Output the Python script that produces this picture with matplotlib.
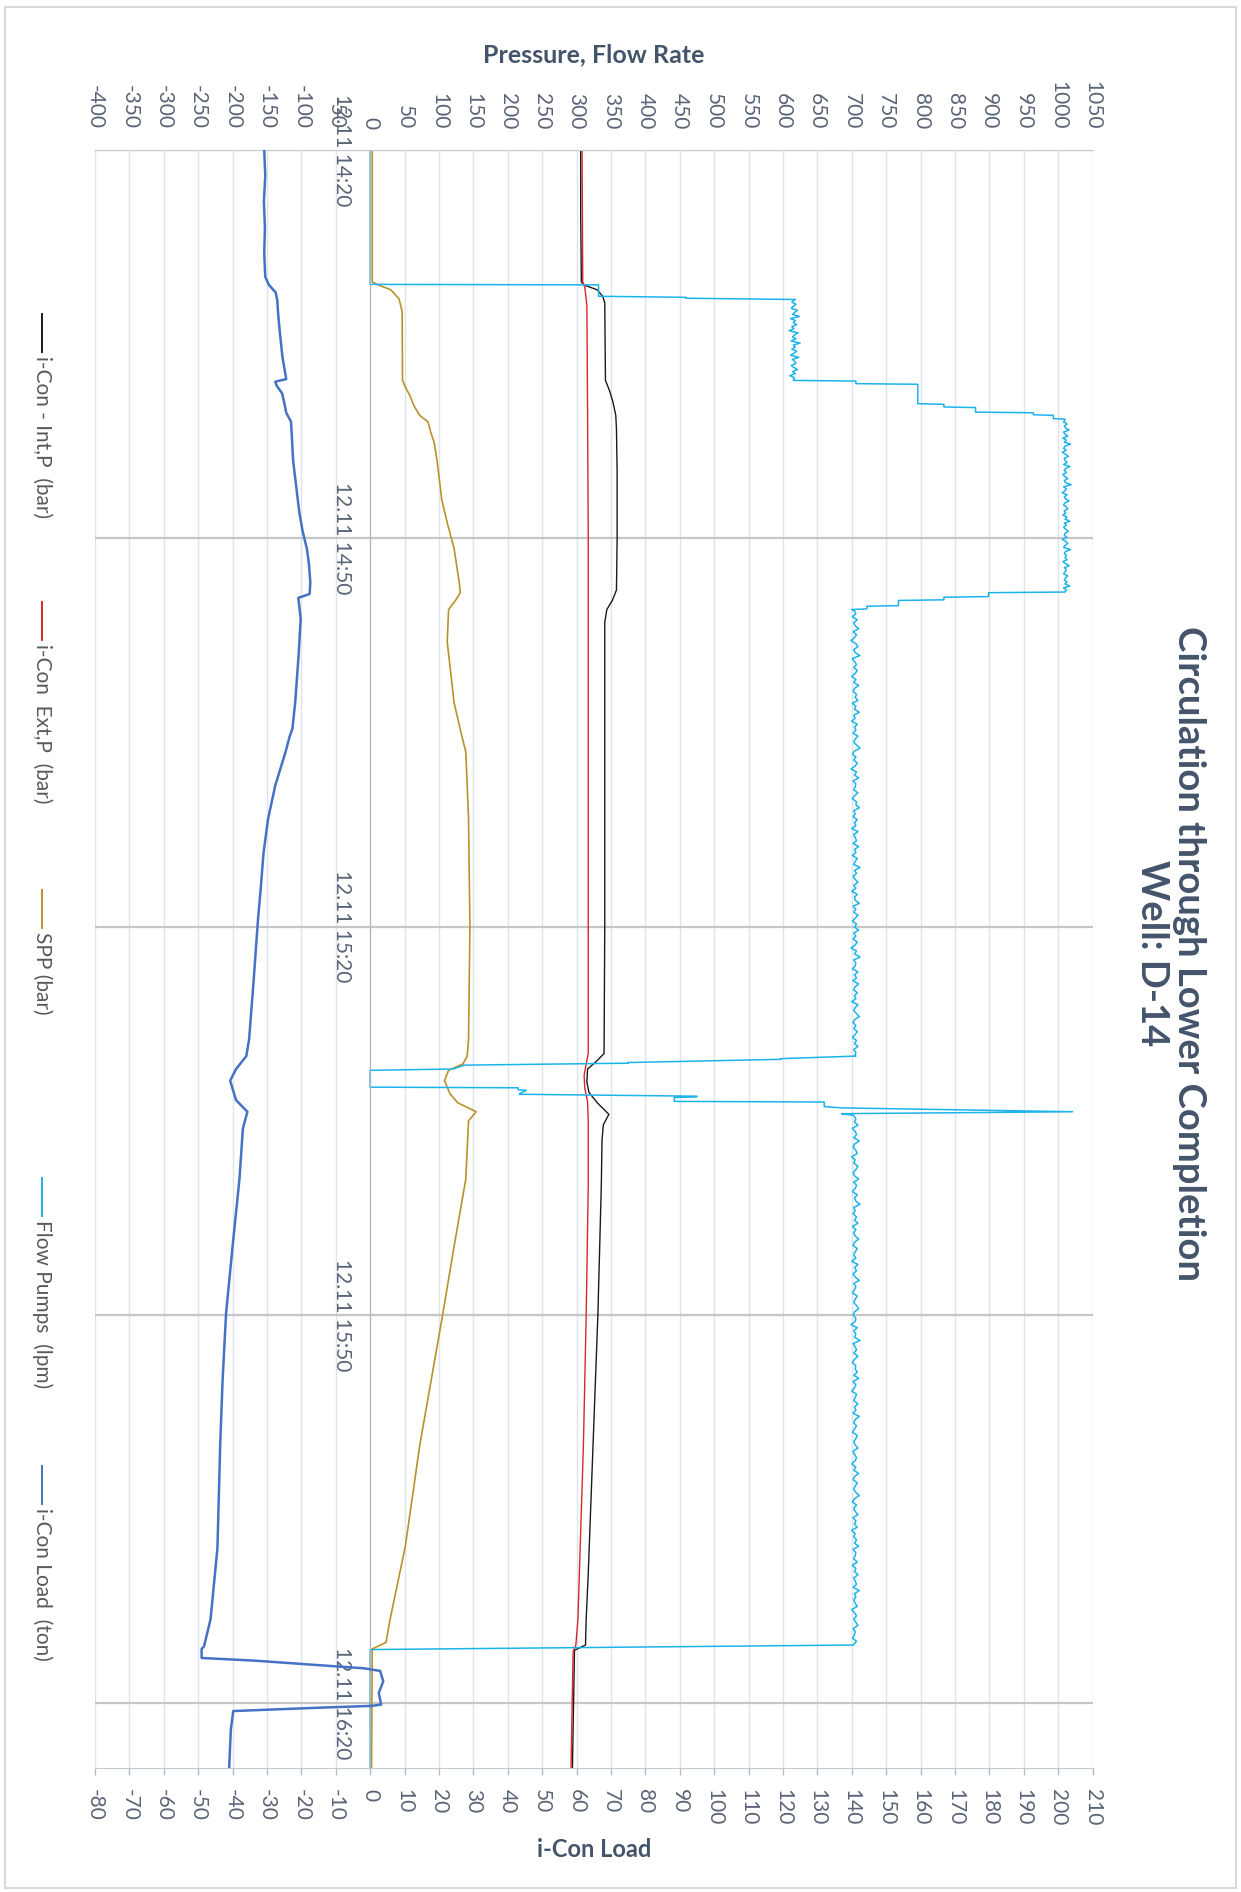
import matplotlib
matplotlib.use("Agg")
import matplotlib.pyplot as plt
from matplotlib.lines import Line2D
from matplotlib.patches import Rectangle
import numpy as np

plt.rcParams["font.family"] = ["Lato", "DejaVu Sans"]

# time axis in minutes after 12.11 14:20
time_ticks = [0, 30, 60, 90, 120]
time_labels = ["12.11 14:20", "12.11 14:50", "12.11 15:20", "12.11 15:50", "12.11 16:20"]
press_ticks = list(range(-400, 1051, 50))
load_ticks = list(range(-80, 211, 10))

series_names = ["i-Con - Int,P  (bar)", "i-Con  Ext,P  (bar)", "SPP (bar)",
                "Flow Pumps  (lpm)", "i-Con Load  (ton)"]
series_colors = ["#1a1a1a", "#d9262b", "#b8922c", "#1cb3ec", "#4472c4"]

# i-Con - Int,P (bar)
int_t = [0, 5, 10.2, 10.45, 10.8, 11.3, 11.8, 17.8, 18.6, 19.5, 20.5, 21.5, 25, 30, 34.0,
         34.8, 35.5, 36.5, 40, 50, 60, 69.8, 70.4, 71.0, 72.0, 72.8, 73.6, 74.5, 75.3, 76.5,
         80, 90, 100, 110, 113.5, 115.5, 115.9, 125]
int_p = [306, 306, 307, 312, 330, 338, 341, 342, 348, 353, 357, 358, 359, 359, 358,
         352, 344, 341, 341, 341, 341, 340, 329, 316, 315, 318, 330, 347, 339, 337,
         336, 331, 324, 317, 314, 313, 297, 294]

# i-Con Ext,P (bar)
ext_t = [0, 10.2, 10.6, 12, 20, 30, 40, 60, 69.8, 70.6, 71.5, 72.5, 73.5, 75, 80, 90,
         100, 113.5, 115.5, 116, 125]
ext_p = [308, 309, 312, 315, 316, 317, 317, 317, 317, 314, 311, 312, 316, 317, 317, 314,
         310, 302, 299, 295, 292]

# SPP (bar)
spp_t = [0, 10.2, 10.45, 10.8, 11.5, 12.5, 17.8, 18.3, 19.0, 19.8, 20.5, 21.0, 21.8,
         22.6, 24.1, 27.0, 28.8, 30.8, 33.4, 34.2, 34.8, 35.5, 38, 42.7, 45.0, 46.5, 49,
         51.7, 60, 68.7, 70.0, 70.6, 71.1, 71.9, 72.9, 73.6, 74.3, 75.0, 79.5, 84.7, 89.9,
         100.1, 107.9, 113.5, 115.3, 115.8, 125]
spp_p = [3, 3, 13, 30, 42, 46.5, 47, 51, 58, 64, 72, 84, 88,
         93, 97.5, 104, 112, 122, 129.5, 131, 124, 114, 112, 122, 132, 139, 141,
         143, 145, 143, 141, 135, 114, 108, 116, 127, 154, 143, 139, 122, 105.6,
         72, 51, 29, 23, 3, 2]

# Flow Pumps (lpm): stepped parts and noisy plateaus
flow_step_a_t = [0, 10.38, 10.42, 11.3, 11.38, 11.45, 11.55]
flow_step_a = [0, 0, 332, 332, 459, 459, 618]
flow_plateau_600 = [616, 613, 619, 615, 612, 621, 617, 614, 624, 611, 618, 615, 620, 613,
                    616, 609, 622, 617, 614, 619, 612, 625, 615, 618, 613, 620, 616, 611,
                    623, 614, 617, 619, 612, 616, 621, 614, 618, 610, 617, 615]
flow_step_b_t = [17.8, 17.85, 18.05, 18.1, 19.6, 19.65, 19.85, 19.9, 20.25, 20.3, 20.45,
                 20.5, 20.75, 20.8]
flow_step_b = [616, 706, 706, 796, 796, 834, 834, 880, 880, 964, 964, 993, 993, 1010]
flow_plateau_1000 = [1010, 1008, 1013, 1009, 1011, 1016, 1008, 1010, 1014, 1007, 1012,
                     1009, 1018, 1010, 1008, 1012, 1006, 1011, 1015, 1009, 1010, 1013,
                     1008, 1017, 1011, 1009, 1012, 1007, 1010, 1014, 1009, 1011, 1019,
                     1008, 1012, 1010, 1006, 1013, 1009, 1011, 1016, 1010, 1008, 1012,
                     1014, 1009, 1011, 1007, 1013, 1010, 1017, 1009, 1012, 1008, 1011,
                     1015, 1010, 1009, 1013, 1006, 1011, 1014, 1010, 1008, 1018, 1011,
                     1009, 1012, 1010, 1013, 1007, 1011, 1016, 1009, 1012, 1010, 1008,
                     1014, 1011, 1009, 1013, 1010, 1017, 1008, 1012, 1010]
flow_step_c_t = [34.2, 34.5, 34.55, 34.75, 34.8, 35.2, 35.25, 35.45, 35.5]
flow_step_c = [899, 899, 834, 834, 768, 768, 722, 722, 700]
flow_plateau_700a = [704, 706, 701, 708, 703, 705, 710, 702, 707, 704, 699, 706, 709, 703,
                     705, 712, 701, 704, 707, 703, 708, 705, 700, 706, 703, 710, 704, 702,
                     707, 705, 709, 701, 706, 704, 711, 703, 705, 700, 708, 704, 706, 702,
                     709, 705, 703, 707, 712, 704, 701, 706, 703, 708, 705, 699, 707, 704,
                     710, 702, 706, 705, 703, 709, 704, 701, 707, 706, 711, 703, 705, 702,
                     708, 704, 706, 700, 709, 703, 705, 707, 702, 710, 704, 706, 701, 708,
                     705, 703, 712, 704, 707, 702, 705, 709, 703, 706, 700, 708, 704, 705,
                     711, 702, 706, 703, 709, 705, 701, 707, 704, 710, 703, 706, 702, 708,
                     705, 699, 707, 704, 712, 703, 706, 705, 701, 709, 704, 707, 702, 710,
                     705, 703, 708, 704, 706, 700, 709, 705, 703, 707, 711, 704, 702, 706,
                     703, 708, 705, 701, 707, 704, 709, 703, 706, 705]
flow_step_d_t = [70.0, 70.2, 70.25, 70.5, 70.55, 70.7, 70.75, 71.0, 71.1, 72.4, 72.45,
                 72.6, 72.65, 72.9, 72.95, 73.1, 73.15, 73.2, 73.5, 73.55, 73.9, 74.0,
                 74.3, 74.45, 74.55]
flow_step_d = [706, 597, 597, 375, 375, 135, 135, 120, 0, 0, 215, 215, 227, 217, 217,
               475, 475, 442, 442, 660, 660, 685, 1021, 685, 700]
flow_plateau_700b = [703, 706, 704, 709, 701, 705, 707, 703, 711, 704, 702, 706, 708, 700,
                     705, 703, 709, 706, 702, 704, 710, 703, 707, 705, 701, 708, 704, 706,
                     712, 703, 705, 702, 707, 704, 709, 701, 706, 703, 705, 710, 704, 702,
                     708, 705, 703, 706, 700, 709, 704, 707, 702, 705, 711, 703, 706, 704,
                     701, 708, 705, 703, 707, 710, 704, 702, 706, 705, 699, 708, 703, 706,
                     704, 712, 702, 705, 707, 703, 709, 704, 701, 706, 705, 708, 703, 710,
                     702, 706, 704, 700, 707, 705, 703, 709, 704, 706, 702, 711, 705, 703,
                     707, 704, 701, 708, 706, 703, 705, 709, 702, 704, 707, 705, 700, 706,
                     703, 710, 704, 702, 708, 705, 703, 706, 711, 704, 701, 707, 703, 705,
                     709, 702, 706, 704, 708, 700, 705, 703, 707, 704, 710, 702, 706, 705,
                     703, 708, 701, 706, 704, 709, 703, 705, 707, 702, 711, 704, 706, 703,
                     705, 708, 700, 704, 707, 703, 706, 709, 702, 705, 704, 701, 707, 703]
flow_step_e_t = [115.5, 115.85, 125]
flow_step_e = [702, 0, 0]

# i-Con Load (ton), secondary axis
load_t = [0, 2, 4, 6, 8, 9.8, 10.4, 11.0, 11.6, 12.5, 14, 16, 17.7, 17.9, 18.2, 18.8, 19.5,
          20.3, 21, 22, 24, 26, 28, 29.5, 30.8, 32, 33.4, 34.3, 34.6, 36.2, 39, 42.7, 44.7,
          45.3, 46.5, 49.1, 51.7, 54.3, 57, 59.4, 62, 64.6, 68.7, 70.0, 71.0, 71.9, 73.4,
          74.3, 75.6, 79.5, 84.7, 89.9, 95, 100, 108, 113.5, 115.6, 115.8, 116.5, 116.7,
          117.3, 117.5, 118.3, 119.2, 120.1, 120.2, 120.35, 120.6, 122, 125]
load_v = [-30.8, -30.5, -30.9, -30.6, -30.8, -30.5, -29.5, -27.5, -27, -26.8, -26.3, -25.5,
          -24.4, -27.6, -27.2, -25.6, -25, -24.4, -23, -22.8, -22.4, -21.5, -20.6, -19.6,
          -18.4, -17.8, -17.4, -17.6, -20.9, -20.2, -20.8, -21.8, -22.6, -23.4, -24.6,
          -27.6, -29.7, -31, -31.8, -32.6, -33.3, -34, -35.2, -36, -39, -40.7, -39, -35.7,
          -37, -38, -40, -41.9, -42.9, -43.6, -44.4, -46.4, -48.3, -49, -49, -34, -1.7,
          2.9, 3.8, 2.5, 3.2, 0.5, -15.7, -39.8, -40.5, -41]


def plateau_times(t0, t1, values):
    # sampling grid for a hand-read plateau
    return list(np.linspace(t0, t1, len(values)))


flow_t = (flow_step_a_t + plateau_times(11.6, 17.75, flow_plateau_600) + flow_step_b_t
          + plateau_times(20.85, 34.15, flow_plateau_1000) + flow_step_c_t
          + plateau_times(35.6, 69.95, flow_plateau_700a) + flow_step_d_t
          + plateau_times(74.6, 115.45, flow_plateau_700b) + flow_step_e_t)
flow_v = (flow_step_a + flow_plateau_600 + flow_step_b + flow_plateau_1000 + flow_step_c
          + flow_plateau_700a + flow_step_d + flow_plateau_700b + flow_step_e)

W, H = 1241, 1892
fig = plt.figure(figsize=(W / 100, H / 100), dpi=100)
ax = fig.add_axes([95 / W, 1 - 1768 / H, (1092.5 - 95) / W, (1768 - 150) / H])
ax2 = ax.twiny()

text_col = "#44546a"
tick_col = "#5a6476"

ax.plot(int_p, int_t, color=series_colors[0], lw=1.0)
ax.plot(ext_p, ext_t, color=series_colors[1], lw=1.0)
ax.plot(spp_p, spp_t, color=series_colors[2], lw=1.2)
ax.plot(flow_v, flow_t, color=series_colors[3], lw=1.1)
ax2.plot(load_v, load_t, color=series_colors[4], lw=1.8)

# the time axis sits on the zero line of the pressure axis
ax.spines["left"].set_position(("data", 0))
ax.spines["left"].set_color("#aab3c2")
ax.spines["top"].set_color("#c3cad6")
ax.spines["right"].set_visible(False)
ax.spines["bottom"].set_visible(False)
for s in ["top", "left", "right"]:
    ax2.spines[s].set_visible(False)
ax2.spines["bottom"].set_color("#c3cad6")

ax.set_xlim(-400, 1050)
ax.set_ylim(125, 0)
ax2.set_xlim(-80, 210)

ax.set_xticks(press_ticks)
ax.set_xticklabels([str(v) for v in press_ticks], rotation=-90)
ax.xaxis.tick_top()
ax.tick_params(axis="x", length=0, pad=15, labelsize=15, labelcolor=tick_col)

ax.set_yticks(time_ticks)
ax.set_yticklabels(time_labels, rotation=-90, va="center", ha="right")
ax.tick_params(axis="y", length=0, pad=13, labelsize=15, labelcolor=tick_col)

ax2.set_xticks(load_ticks)
ax2.set_xticklabels([str(v) for v in load_ticks], rotation=-90)
ax2.xaxis.tick_bottom()
ax2.tick_params(axis="x", length=5, width=1, color="#b4bccb", pad=10, labelsize=15,
                labelcolor=tick_col)

ax.set_axisbelow(True)
ax.xaxis.grid(True, color="#dfe3ea", lw=1.0)
ax.yaxis.grid(True, color="#c6c6c6", lw=1.6)

# titles (chart is laid out rotated a quarter turn clockwise)
fig.text(1189 / W, 1 - 953 / H, "Circulation through Lower Completion", rotation=-90,
         ha="center", va="center", fontsize=27.5, fontweight="bold", color=text_col)
fig.text(1152 / W, 1 - 953 / H, "Well: D-14", rotation=-90, ha="center", va="center",
         fontsize=27.5, fontweight="bold", color=text_col)
fig.text(594 / W, 1 - 55 / H, "Pressure, Flow Rate", ha="center", va="center",
         fontsize=18, fontweight="bold", color=text_col)
fig.text(594 / W, 1 - 1849 / H, "i-Con Load", ha="center", va="center",
         fontsize=17, fontweight="bold", color=text_col)

# legend, drawn rotated along the left edge
for i, (name, col) in enumerate(zip(series_names, series_colors)):
    y0 = 314 + 288 * i
    fig.add_artist(Line2D([42 / W, 42 / W], [1 - y0 / H, 1 - (y0 + 38) / H],
                          color=col, lw=1.4, transform=fig.transFigure))
    fig.text(42 / W, 1 - (y0 + 42) / H, name, rotation=-90, ha="center", va="top",
             fontsize=15, color="#595959")

fig.add_artist(Rectangle((5 / W, 4 / H), 1 - 10 / W, 1 - 11 / H, fill=False,
                         ec="#d9d9d9", lw=1.5, transform=fig.transFigure))

fig.savefig("out.png", dpi=100)
